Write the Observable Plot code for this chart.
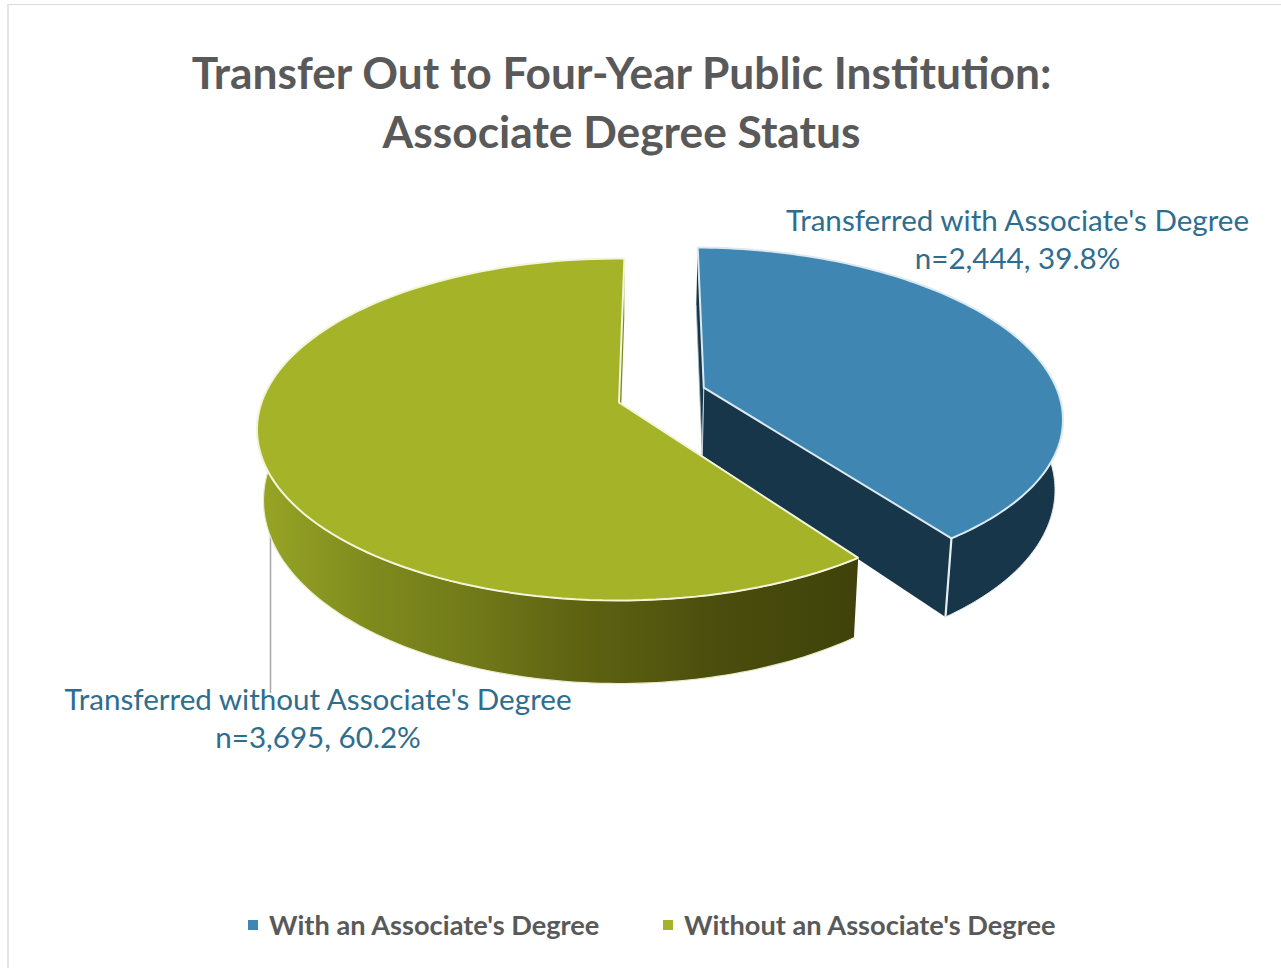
<!DOCTYPE html>
<html><head><meta charset="utf-8">
<script src="https://cdn.jsdelivr.net/npm/d3@7"></script>
<script src="https://cdn.jsdelivr.net/npm/@observablehq/plot@0.6"></script>
<style>
html,body{margin:0;padding:0;background:#fff;overflow:hidden}
#page{position:relative;width:1281px;height:968px;font-family:Lato,"Open Sans",sans-serif}
#frameT{position:absolute;left:7px;top:4px;right:0;height:1px;background:#dcdcdc}
#frameL{position:absolute;left:7px;top:4px;bottom:0;width:2px;background:#e4e4e4}
#title{position:absolute;left:0;width:1243px;top:42px;text-align:center;font-weight:700;font-size:44.3px;line-height:59px;color:#595959;margin:0}
#chart{position:absolute;left:0;top:175px}
.lg{position:absolute;top:910px;font-weight:700;font-size:27.2px;line-height:30px;color:#595959;white-space:nowrap}
.sw{position:absolute;top:920px;width:10px;height:10px}
</style></head><body>
<div id="page">
<div id="frameT"></div><div id="frameL"></div>
<h1 id="title">Transfer Out to Four-Year Public Institution:<br>Associate Degree Status</h1>
<div id="chart"></div>
</div>
<script>
const categories = ["With an Associate's Degree", "Without an Associate's Degree"];
const labelNames = ["Transferred with Associate's Degree", "Transferred without Associate's Degree"];
const counts = [2444, 3695];
const percents = ["39.8%", "60.2%"];
const topColors = ["#3f86b2", "#a4b328"];
const wallColor = "#18364a";
const labelColor = "#2f6d8f";
const wallStops = [[0, "#98a626"], [0.19, "#7f8a1d"], [0.35, "#727b19"], [0.52, "#5f6412"], [0.64, "#565a10"], [0.77, "#4a4d0c"], [1, "#3f430a"]];

// pie view: tilt + perspective
const view = {cx: 618.5, cy: 402, rx: 357.5, ry: 166.7, k: 0.158, start: 1, explode: 0.257, explodeDir: 69.4, floorX: 0.982, floorY: 1.071, drop: 69};
const total = d3.sum(counts);
const sweep = counts[0] / total * 360;
const rad = d => d * Math.PI / 180;
const project = (u, v) => {
  const w = 1 + view.k * v;
  return [view.cx + view.rx * u / w, view.cy - view.ry * v / w];
};
const lower = ([x, y]) => [view.cx + view.floorX * (x - view.cx), view.cy + view.drop + view.floorY * (y - view.cy)];
const offset = [view.explode * Math.sin(rad(view.explodeDir)), view.explode * Math.cos(rad(view.explodeDir))];
const rim = (a, off) => project(Math.sin(rad(a)) + off[0], Math.cos(rad(a)) + off[1]);
const arc = (a0, a1, off) => d3.range(0, 121).map(i => rim(a0 + (a1 - a0) * i / 120, off));
const noOff = [0, 0];
const blueEnd = view.start + sweep;
const blueApex = project(offset[0], offset[1]);
const greenApex = project(0, 0);

const blueArc = arc(view.start, blueEnd, offset);
const greenArc = arc(blueEnd, view.start + 360, noOff);

const blueTop = [blueApex, ...blueArc, blueApex];
const greenTop = [greenApex, ...greenArc, greenApex];
const blueOuter = arc(85, blueEnd, offset);
const blueWall = [...blueOuter, ...blueOuter.map(lower).reverse()];
const blueRadial = [blueApex, blueArc[120], lower(blueArc[120]), lower(blueApex)];
const blueBack = [blueArc[0], blueApex, lower(blueApex), lower(blueArc[0])];
const greenOuter = arc(blueEnd, 275, noOff);
const greenWall = [...greenOuter, ...greenOuter.map(lower).reverse()];
const greenBack = [greenArc[120], greenApex, lower(greenApex), lower(greenArc[120])];
const leader = [[270, 532], [270, 692]];

const poly = (pts, o) => Plot.line(pts, {x: d => d[0], y: d => d[1], curve: "linear", ...o});

const gradient = () => {
  const defs = d3.create("svg:defs");
  const g = defs.append("linearGradient").attr("id", "wallGrad");
  wallStops.forEach(([o, c]) => g.append("stop").attr("offset", o).attr("stop-color", c));
  return defs.node();
};

const labels = [
  {x: 1017, y: 237, t: labelNames[0] + "\nn=" + d3.format(",")(counts[0]) + ", " + percents[0]},
  {x: 317.5, y: 716, t: labelNames[1] + "\nn=" + d3.format(",")(counts[1]) + ", " + percents[1]}
];

const plot = Plot.plot({
  width: 1281, height: 715,
  margin: 0,
  x: {domain: [0, 1281], range: [0, 1281], axis: null},
  y: {domain: [175, 890], range: [0, 715], axis: null},
  style: {background: "transparent", overflow: "visible"},
  marks: [
    gradient,
    poly(leader, {stroke: "#a6a6a6", strokeWidth: 1.5}),
    poly(blueBack, {fill: wallColor, stroke: "#9fb4c0", strokeWidth: 0.8}),
    poly(blueWall, {fill: wallColor, stroke: "#dfe9ee", strokeWidth: 1}),
    poly(blueRadial, {fill: wallColor, stroke: "none"}),
    poly([blueArc[120], lower(blueArc[120])], {stroke: "#e6eef2", strokeWidth: 2.2}),
    poly([blueApex, lower(blueApex)], {stroke: "#c9d6dd", strokeWidth: 1}),
    poly(blueTop, {fill: topColors[0], stroke: "#dbe9f0", strokeWidth: 2, strokeLinejoin: "miter"}),
    poly(greenBack, {fill: "#7d8a1e", stroke: "none"}),
    poly(greenWall, {fill: "url(#wallGrad)", stroke: "#e9ecc9", strokeWidth: 1.2}),
    poly(greenTop, {fill: topColors[1], stroke: "#f3f5d9", strokeWidth: 2, strokeLinejoin: "miter"}),
    Plot.text(labels, {x: "x", y: "y", text: "t", fill: labelColor, fontSize: 29.6, lineHeight: 1.29, fontFamily: "Lato", textAnchor: "middle", lineAnchor: "middle"})
  ]
});
document.getElementById("chart").appendChild(plot);

const page = document.getElementById("page");
[[248, 269], [663, 684]].forEach(([sx, tx], i) => {
  const s = document.createElement("div"); s.className = "sw"; s.style.left = sx + "px"; s.style.background = topColors[i]; page.appendChild(s);
  const t = document.createElement("div"); t.className = "lg"; t.style.left = tx + "px"; t.textContent = categories[i]; page.appendChild(t);
});
</script>
</body></html>
